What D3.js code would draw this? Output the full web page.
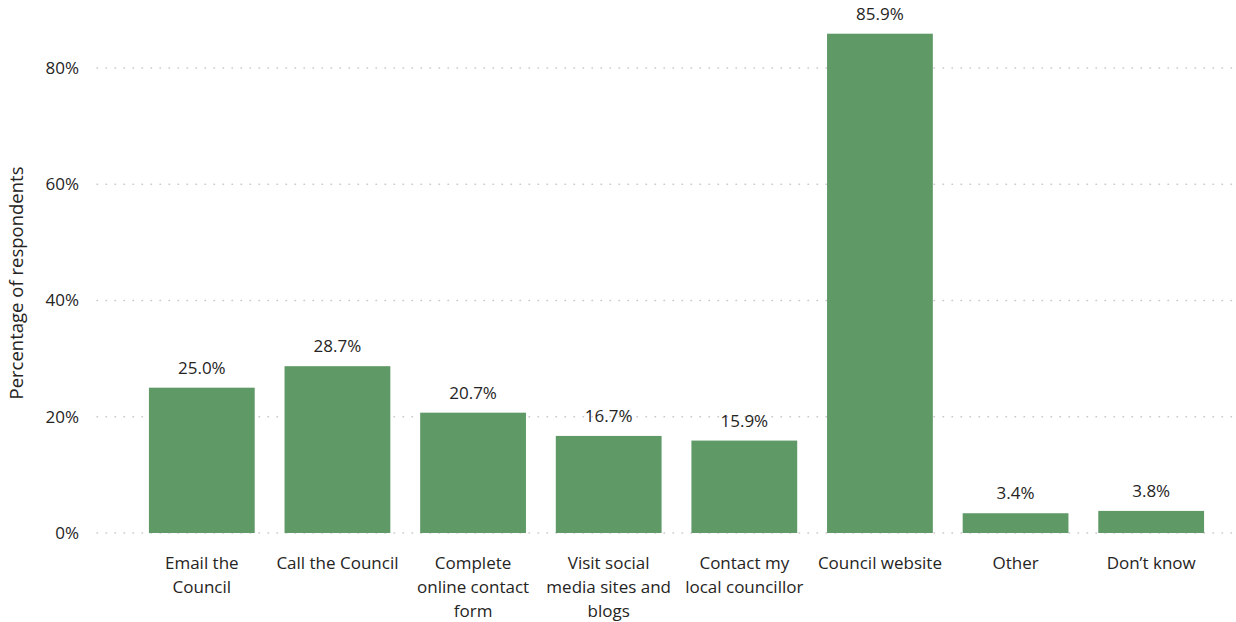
<!DOCTYPE html>
<html>
<head>
<meta charset="utf-8">
<script src="https://cdn.jsdelivr.net/npm/d3@7/dist/d3.min.js"></script>
<style>
  html, body { margin: 0; padding: 0; background: #fff; }
  svg text { font-family: "Segoe UI", "Open Sans", "Noto Sans", sans-serif; fill: #252423; }
</style>
</head>
<body>
<svg id="chart" width="1236" height="622"></svg>
<script>
// Survey: how respondents would contact the Council
const categories = [
  "Email the Council",
  "Call the Council",
  "Complete online contact form",
  "Visit social media sites and blogs",
  "Contact my local councillor",
  "Council website",
  "Other",
  "Don\u2019t know"
];
const categoryLines = [
  ["Email the", "Council"],
  ["Call the Council"],
  ["Complete", "online contact", "form"],
  ["Visit social", "media sites and", "blogs"],
  ["Contact my", "local councillor"],
  ["Council website"],
  ["Other"],
  ["Don\u2019t know"]
];
const percentages = [25.0, 28.7, 20.7, 16.7, 15.9, 85.9, 3.4, 3.8];
const yTicks = [0, 20, 40, 60, 80];
const yTitle = "Percentage of respondents";

const svg = d3.select("#chart");
const fontSize = 17;

const x = d3.scaleBand()
  .domain(categories)
  .range([134, 1219])
  .paddingInner(0.22)
  .paddingOuter(0.11);

const y = d3.scaleLinear()
  .domain([0, 80])
  .range([533, 68]);

// dotted gridlines
svg.append("g")
  .selectAll("line")
  .data(yTicks)
  .join("line")
  .attr("x1", 97)
  .attr("x2", 1232)
  .attr("y1", d => y(d))
  .attr("y2", d => y(d))
  .attr("stroke", "#c8c8c8")
  .attr("stroke-width", 1.5)
  .attr("stroke-linecap", "round")
  .attr("stroke-dasharray", "0.5,8.5");

// y tick labels
svg.append("g")
  .selectAll("text")
  .data(yTicks)
  .join("text")
  .attr("x", 79)
  .attr("y", d => y(d))
  .attr("dy", "0.35em")
  .attr("text-anchor", "end")
  .style("font-size", fontSize + "px")
  .text(d => d + "%");

// y axis title
svg.append("text")
  .attr("transform", "translate(17,283) rotate(-90)")
  .attr("text-anchor", "middle")
  .attr("dy", "0.35em")
  .style("font-size", "18.5px")
  .text(yTitle);

// bars
svg.append("g")
  .selectAll("rect")
  .data(categories)
  .join("rect")
  .attr("x", d => x(d))
  .attr("width", x.bandwidth())
  .attr("y", (d, i) => y(percentages[i]))
  .attr("height", (d, i) => y(0) - y(percentages[i]))
  .attr("fill", "#5e9966");

// value labels
svg.append("g")
  .selectAll("text")
  .data(categories)
  .join("text")
  .attr("x", d => x(d) + x.bandwidth() / 2)
  .attr("y", (d, i) => y(percentages[i]) - 14)
  .attr("text-anchor", "middle")
  .style("font-size", fontSize + "px")
  .text((d, i) => percentages[i].toFixed(1) + "%");

// category labels
const cat = svg.append("g")
  .selectAll("text")
  .data(categories)
  .join("text")
  .attr("x", d => x(d) + x.bandwidth() / 2)
  .attr("y", 563)
  .attr("text-anchor", "middle")
  .style("font-size", fontSize + "px");

cat.selectAll("tspan")
  .data((d, i) => categoryLines[i])
  .join("tspan")
  .attr("x", function() { return d3.select(this.parentNode).attr("x"); })
  .attr("dy", (d, j) => j === 0 ? "0.35em" : "24px")
  .text(d => d);
</script>
</body>
</html>
